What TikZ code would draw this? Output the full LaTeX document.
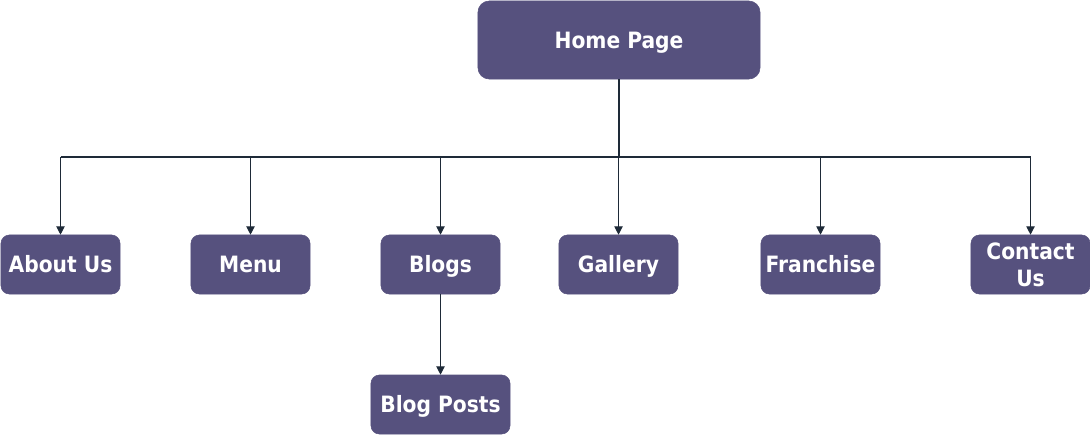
\documentclass[tikz,border=0pt]{standalone}
\usepackage{fontspec}
\setmainfont{DejaVu Sans Condensed}[BoldFont={DejaVu Sans Condensed Bold}]
\usetikzlibrary{arrows.meta}
\definecolor{cpurple}{RGB}{86,81,126}
\definecolor{cline}{RGB}{30,42,56}

\tikzset{
  pagebox/.style={draw=cpurple, fill=cpurple, rounded corners=6pt, text=white,
    font=\fontsize{16}{19}\selectfont\bfseries, align=center,
    text height=12pt, text depth=0pt,
    minimum width=2.975cm, minimum height=1.475cm, inner sep=0pt},
  link/.style={draw=cline, line width=0.8pt},
  linkarrow/.style={link, -{Triangle[length=6pt, width=6pt]}}
}

\begin{document}
\begin{tikzpicture}[x=0.025cm, y=-0.025cm]
  \useasboundingbox (0, 0) rectangle (1090, 435);

  % pages
  \node[pagebox, minimum width=7.05cm, minimum height=1.95cm, rounded corners=8pt] (home) at (619, 40) {Home Page};
  \node[pagebox] (about) at (60.5, 264.5) {About Us};
  \node[pagebox] (menu) at (250.5, 264.5) {Menu};
  \node[pagebox] (blogs) at (440.5, 264.5) {Blogs};
  \node[pagebox] (gallery) at (618.5, 264.5) {Gallery};
  \node[pagebox] (franchise) at (820.5, 264.5) {Franchise};
  \node[pagebox, text height={}, text depth={}] (contact) at (1030.5, 264.5) {Contact\\Us};
  \node[pagebox, minimum width=3.475cm] (posts) at (440.5, 404.5) {Blog Posts};

  % connectors
  \coordinate (bus) at (619, 157);
  \draw[link] (home.south) -- (home.south |- bus);
  \draw[link] (about.north |- bus) -- (contact.north |- bus);
  \foreach \page in {about, menu, blogs, gallery, franchise, contact}
    \draw[linkarrow] (\page.north |- bus) -- (\page.north);
  \draw[linkarrow] (blogs.south) -- (posts.north);

\end{tikzpicture}
\end{document}
